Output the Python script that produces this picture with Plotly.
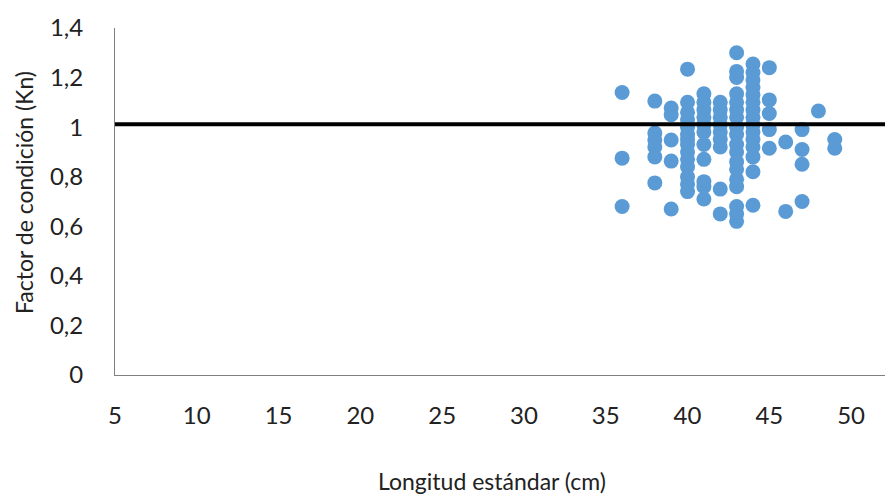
import plotly.graph_objects as go

# Data
x36 = [1.14, 0.875, 0.68]
x38 = [1.105, 0.976, 0.948, 0.92, 0.88, 0.775]
x39 = [1.077, 1.05, 0.948, 0.863, 0.67]
x40 = [1.234, 1.10, 1.06, 1.03, 1.00, 0.97, 0.95, 0.93, 0.90, 0.87, 0.84, 0.80, 0.77, 0.74]
x41 = [1.135, 1.10, 1.07, 1.04, 1.01, 0.98, 0.93, 0.87, 0.78, 0.76, 0.71]
x42 = [1.10, 1.07, 1.04, 1.01, 0.98, 0.95, 0.92, 0.75, 0.65]
x43 = [1.30, 1.225, 1.20, 1.135, 1.10, 1.07, 1.04, 1.00, 0.97, 0.93, 0.90, 0.86, 0.83,
       0.79, 0.76, 0.68, 0.65, 0.62]
x44 = [1.255, 1.22, 1.19, 1.16, 1.13, 1.10, 1.07, 1.04, 1.01, 0.98, 0.95, 0.92, 0.88,
       0.82, 0.685]
x45 = [1.24, 1.11, 1.055, 0.99, 0.915]
x46 = [0.94, 0.66]
x47 = [0.99, 0.91, 0.85, 0.70]
x48 = [1.065]
x49 = [0.95, 0.915]

groups = {36: x36, 38: x38, 39: x39, 40: x40, 41: x41, 42: x42, 43: x43,
          44: x44, 45: x45, 46: x46, 47: x47, 48: x48, 49: x49}

length_cm = [k for k, vals in groups.items() for _ in vals]
kn_values = [v for vals in groups.values() for v in vals]

ref_line_x = [5, 55]
ref_line_y = [1.012, 1.012]

x_ticks = [5, 10, 15, 20, 25, 30, 35, 40, 45, 50]
y_ticks = [0, 0.2, 0.4, 0.6, 0.8, 1.0, 1.2, 1.4]
y_tick_text = ["0", "0,2", "0,4", "0,6", "0,8", "1", "1,2", "1,4"]

font_family = "Lato, 'Open Sans', sans-serif"
text_color = "#222222"

# page offset (browser default body margin)
OFF = 8

fig = go.Figure()
fig.add_trace(go.Scatter(
    x=length_cm, y=kn_values, mode="markers",
    marker=dict(color="#5B9BD5", size=15, line=dict(width=0)),
    showlegend=False, hoverinfo="x+y",
))
fig.add_trace(go.Scatter(
    x=ref_line_x, y=ref_line_y, mode="lines",
    line=dict(color="black", width=4),
    showlegend=False, hoverinfo="skip",
))

fig.update_layout(
    width=893 - OFF, height=498 - OFF,
    margin=dict(l=115 - OFF, r=0, t=28 - OFF, b=123),
    paper_bgcolor="white", plot_bgcolor="white",
    font=dict(family=font_family, size=24, color=text_color),
    xaxis=dict(
        range=[5, 52.56], tickvals=x_ticks, ticktext=[str(t) for t in x_ticks],
        showgrid=False, zeroline=False, showline=True, linecolor="#7f7f7f", linewidth=1,
        ticks="", ticklabelstandoff=19,
    ),
    yaxis=dict(
        range=[0, 1.4], tickvals=y_ticks, ticktext=y_tick_text,
        showgrid=False, zeroline=False, showline=True, linecolor="#7f7f7f", linewidth=1,
        ticks="", ticklabelstandoff=26,
    ),
    annotations=[
        dict(text="Longitud estándar (cm)", xref="paper", yref="paper",
             x=(492 - 115) / (893 - 115), y=-(481 - 375) / (375 - 28),
             xanchor="center", yanchor="middle", showarrow=False,
             font=dict(size=23, color=text_color, family=font_family)),
        dict(text="Factor de condición (Kn)", xref="paper", yref="paper",
             x=-(115 - 24) / (893 - 115), y=(375 - 193) / (375 - 28), textangle=-90,
             xanchor="center", yanchor="middle", showarrow=False,
             font=dict(size=23, color=text_color, family=font_family)),
    ],
)

fig.write_html("out.html")
